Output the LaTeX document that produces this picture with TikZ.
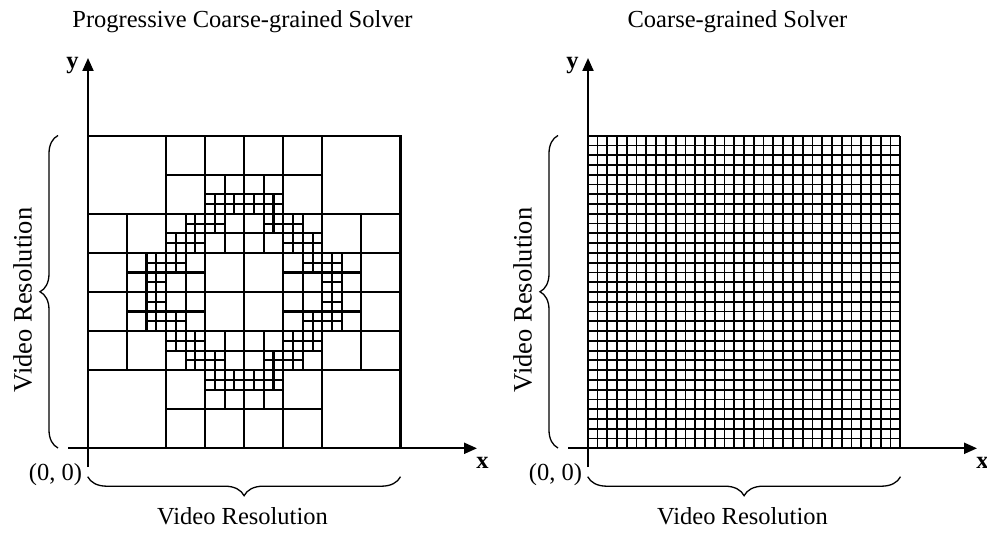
\documentclass[tikz,border=0pt]{standalone}
\usepackage{fontspec}
\setmainfont{Liberation Serif}
\usetikzlibrary{arrows.meta,decorations.pathreplacing}
\begin{document}
\begin{tikzpicture}[x=1pt,y=1pt,
  axisline/.style={line width=2.1pt, -{Triangle[length=13pt,width=11pt]}},
  cellline/.style={line width=2.1pt, line cap=rect},
  fineline/.style={line width=1.8pt},
  bracev/.style={line width=1.3pt, decorate, decoration={brace, amplitude=18pt}},
  braceh/.style={line width=1.3pt, decorate, decoration={brace, amplitude=19pt}},
  lbl/.style={font=\fontsize{24.5}{29}\selectfont, inner sep=0pt},
  vlbl/.style={font=\fontsize{26.5}{31}\selectfont, inner sep=0pt, rotate=90},
  axlbl/.style={font=\fontsize{24.5}{29}\selectfont\bfseries, inner sep=0pt}
]
\useasboundingbox (0,0) rectangle (987,-534);

% shared parts of both panels
\foreach \ox/\nm/\ttl/\tx in {0/L/Progressive Coarse-grained Solver/242.5, 500/R/Coarse-grained Solver/237.5}{
  \begin{scope}[xshift=\ox]
    \node[lbl, anchor=base] (ttl\nm) at (\tx,-27.5) {\ttl};
    \coordinate (yb\nm) at (88,-467);
    \coordinate (yt\nm) at (88,-58);
    \draw[axisline] (yb\nm) -- (yt\nm);
    \coordinate (xl\nm) at (68,-448.3);
    \coordinate (xr\nm) at (477,-448.3);
    \draw[axisline] (xl\nm) -- (xr\nm);
    \node[axlbl, anchor=base] (ylab\nm) at (72.5,-69) {y};
    \node[axlbl, anchor=base] (xlab\nm) at (482.5,-468.3) {x};
    \node[lbl, anchor=base] (orig\nm) at (55.5,-480) {(0, 0)};
    \node[lbl, anchor=base] (hres\nm) at (242.5,-524.5) {Video Resolution};
    \node[vlbl, anchor=base] (vres\nm) at (31.7,-300) {Video Resolution};
    \coordinate (bvb\nm) at (58,-448);
    \coordinate (bvt\nm) at (58,-135.5);
    \draw[bracev] (bvb\nm) -- (bvt\nm);
    \coordinate (bhr\nm) at (400.5,-476.7);
    \coordinate (bhl\nm) at (87.7,-476.7);
    \draw[braceh] (bhr\nm) -- (bhl\nm);
  \end{scope}
}

% left: progressive (adaptive) grid, built from one quadrant mirrored
\begin{scope}[shift={(244.2,-292.0)}, scale=9.77]
  \foreach \sx/\sy in {1/1,-1/1,1/-1,-1/-1}{
    \begin{scope}[xscale=\sx,yscale=\sy]
      \foreach \a/\b/\s in {-16/8/8, -8/12/4, -4/12/4, -8/8/4, -16/4/4, -12/4/4, -16/0/4, -4/0/4,
                            -4/10/2, -2/10/2, -8/6/2, -2/6/2, -4/4/2, -2/4/2, -12/2/2, -12/0/2,
                            -6/2/2, -8/0/2, -6/0/2}
        \draw[cellline] (\a,\b) rectangle ++(\s,\s);
      \foreach \xa/\xb/\ya/\yb in {-4/0/8/10, -6/-4/6/8, -8/-4/4/6, -4/-2/6/8, -10/-8/0/4, -8/-6/2/4}{
        \foreach \x in {\xa,...,\xb} \draw[cellline] (\x,\ya) -- (\x,\yb);
        \foreach \y in {\ya,...,\yb} \draw[cellline] (\xa,\y) -- (\xb,\y);
      }
    \end{scope}
  }
\end{scope}

% right: uniform fine grid
\begin{scope}[shift={(587.7,-448.3)}, scale=9.77]
  \foreach \i in {0,...,32}{
    \draw[fineline] (\i,0) -- (\i,32);
    \draw[fineline] (0,\i) -- (32,\i);
  }
\end{scope}
\end{tikzpicture}
\end{document}
